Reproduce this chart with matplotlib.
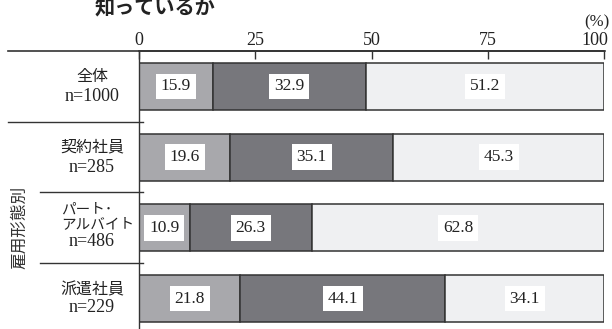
import matplotlib
matplotlib.use("Agg")
import matplotlib.pyplot as plt
from matplotlib.transforms import blended_transform_factory
from matplotlib.lines import Line2D

cat_names = ["全体", "契約社員", "パート･\nアルバイト", "派遣社員"]
cat_n = ["n=1000", "n=285", "n=486", "n=229"]
seg1 = [15.9, 19.6, 10.9, 21.8]
seg2 = [32.9, 35.1, 26.3, 44.1]
seg3 = [51.2, 45.3, 62.8, 34.1]
xticks = [0, 25, 50, 75, 100]
title = "知っているか"
ylabel = "雇用形態別"

colors = ["#a8a8ac", "#77777c", "#eff0f2"]
edge = "#333333"
FAM = ["Liberation Serif", "Noto Sans CJK JP", "DejaVu Sans"]
JFAM = ["Noto Sans CJK JP", "DejaVu Sans"]
TXT = "#222222"

W, H = 612, 329
fig = plt.figure(figsize=(W/100, H/100), dpi=100)
ax_top = 51
ax = fig.add_axes([139/W, 0.0, (604-139)/W, 1 - ax_top/H])

PX = 70.7  # pixels per category unit
y = list(range(len(cat_names)))
h = 0.665
left = [0]*len(y)
for vals, c in zip([seg1, seg2, seg3], colors):
    ax.barh(y, vals, left=left, height=h, color=c, edgecolor=edge, linewidth=1.1, zorder=2)
    for yi, l, v in zip(y, left, vals):
        ax.text(l + v/2, yi, f"{v:.1f}", ha="center", va="center", fontsize=12.5,
                family=FAM, color=TXT, zorder=3,
                bbox=dict(boxstyle="square,pad=0.28", fc="white", ec="none"))
    left = [a + b for a, b in zip(left, vals)]

ytop = -(86.5 - ax_top)/PX
ybot = 3 + (329 - 298.5)/PX
ax.set_xlim(0, 100)
ax.set_ylim(ybot, ytop)
ax.xaxis.tick_top()
ax.set_xticks(xticks)
ax.set_xticklabels([])
ax.tick_params(axis="x", direction="in", length=5.5, width=1, color="#333333")
ax.set_yticks([])
for s in ["right", "bottom"]:
    ax.spines[s].set_visible(False)
for s in ["top", "left"]:
    ax.spines[s].set_color("#333333")
ax.spines["top"].set_linewidth(1.2)
ax.spines["left"].set_linewidth(1.0)

# tick labels
trx = blended_transform_factory(ax.transData, fig.transFigure)
for t in xticks:
    if t == 100:
        ax.text(100.9, 1 - 45/H, str(t), transform=trx, ha="right", va="baseline",
                fontsize=13, family=FAM, color=TXT)
    else:
        ax.text(t, 1 - 45/H, str(t), transform=trx, ha="center", va="baseline",
                fontsize=13, family=FAM, color=TXT)

# category labels
tr = blended_transform_factory(fig.transFigure, ax.transData)
name_off = [-9.5, -9.5, -11, -8.5]
n_off = [10.5, 10.5, 14, 8.5]
for yi, nm, nn, o1, o2 in zip(y, cat_names, cat_n, name_off, n_off):
    if "\n" in nm:
        ax.text(61/W, yi + o1/PX, nm, transform=tr, ha="left", va="center", fontsize=10.5,
                family=JFAM, color=TXT, linespacing=1.1, multialignment="left")
    else:
        ax.text(92/W, yi + o1/PX, nm, transform=tr, ha="center", va="center", fontsize=11.5,
                family=FAM, color=TXT)
    ax.text(92/W, yi + o2/PX, nn, transform=tr, ha="center", va="center", fontsize=13,
            family=FAM, color=TXT)

# separators
seps = [(8/W, 0.5), (40/W, 1.5), (40/W, 2.5)]
for x0, ys in seps:
    fig.add_artist(Line2D([x0, 143/W], [ys, ys], transform=tr, color="#333333", lw=1.0, clip_on=False))
fig.add_artist(Line2D([8/W, 605/W], [ytop, ytop], transform=tr, color="#333333", lw=1.2, clip_on=False))

# y label
ax.text(20/W, 2.0, ylabel, transform=tr, rotation=90, ha="center", va="center",
        fontsize=12, family=FAM, color="#333333")

fig.text(155/W, 1 - 14.5/H, title, ha="center", va="baseline", fontsize=14.5,
         fontweight="bold", family=["Noto Sans CJK JP"], color=TXT)
fig.text(597/W, 1 - 22/H, "(%)", ha="center", va="center", fontsize=12, family=FAM, color=TXT)

fig.savefig("out.png", dpi=100, facecolor="white")
